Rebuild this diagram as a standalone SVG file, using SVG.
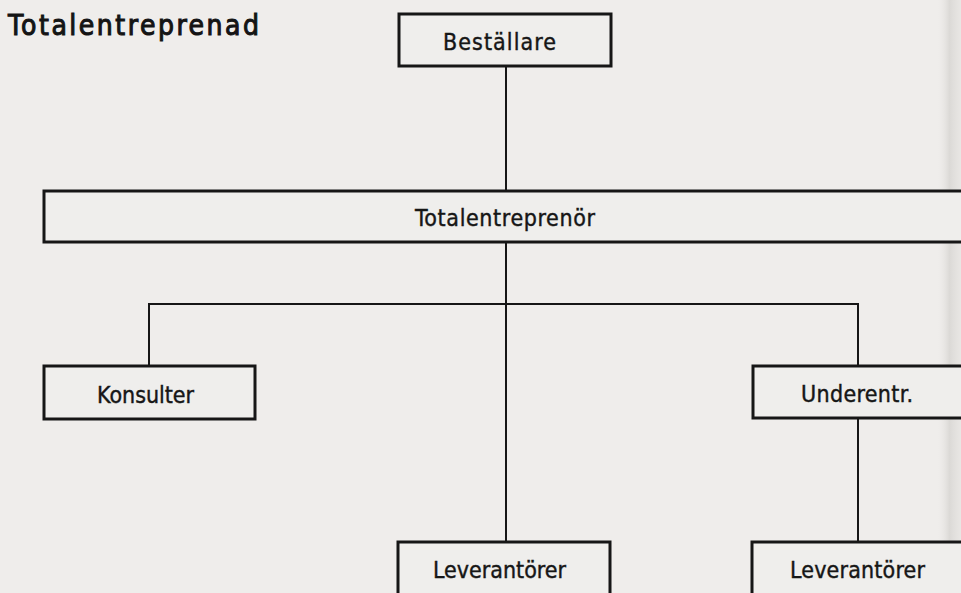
<svg xmlns="http://www.w3.org/2000/svg" width="961" height="593" viewBox="0 0 961 593">
  <defs>
    <linearGradient id="edge" x1="0" y1="0" x2="1" y2="0">
      <stop offset="0" stop-color="#e9e7e4" stop-opacity="0"/>
      <stop offset="0.5" stop-color="#d9d7d4" stop-opacity="0.9"/>
      <stop offset="1" stop-color="#e4e2df" stop-opacity="0.6"/>
    </linearGradient>
  </defs>
  <style>
    .box { fill: #efeeec; stroke: #161616; stroke-width: 3; }
    .conn { stroke: #161616; stroke-width: 2; fill: none; }
    .lbl { font-family: "DejaVu Sans Condensed", "DejaVu Sans", sans-serif; font-stretch: condensed; font-size: 23px; fill: #161616; stroke: #161616; stroke-width: 0.4; }
    .title { font-family: "DejaVu Sans Condensed", "DejaVu Sans", sans-serif; font-stretch: condensed; font-size: 28px; fill: #141414; stroke: #141414; stroke-width: 1; }
  </style>
  <rect x="0" y="0" width="961" height="593" fill="#efedeb"/>
  <rect x="938" y="0" width="23" height="593" fill="url(#edge)"/>

  <text class="title" x="8" y="35" textLength="251" lengthAdjust="spacing">Totalentreprenad</text>

  <g id="connectors">
    <line class="conn" x1="506" y1="66" x2="506" y2="191"/>
    <line class="conn" x1="506" y1="242" x2="506" y2="542"/>
    <polyline class="conn" points="149,366 149,304 858,304 858,366"/>
    <line class="conn" x1="858" y1="418" x2="858" y2="542"/>
  </g>

  <g id="bestallare">
    <rect class="box" x="399" y="14" width="212" height="52"/>
    <text class="lbl" x="443" y="50" textLength="113" lengthAdjust="spacing">Beställare</text>
  </g>

  <g id="totalentreprenor">
    <rect class="box" x="44" y="191" width="935" height="51"/>
    <text class="lbl" x="415" y="226" textLength="180" lengthAdjust="spacing">Totalentreprenör</text>
  </g>

  <g id="konsulter">
    <rect class="box" x="44" y="366" width="211" height="53"/>
    <text class="lbl" x="97" y="403" textLength="97" lengthAdjust="spacing">Konsulter</text>
  </g>

  <g id="underentr">
    <rect class="box" x="753" y="366" width="226" height="52"/>
    <text class="lbl" x="801" y="402" textLength="112" lengthAdjust="spacing">Underentr.</text>
  </g>

  <g id="leverantorer1">
    <rect class="box" x="398" y="542" width="212" height="70"/>
    <text class="lbl" x="433" y="578" textLength="133" lengthAdjust="spacing">Leverantörer</text>
  </g>

  <g id="leverantorer2">
    <rect class="box" x="752" y="542" width="227" height="70"/>
    <text class="lbl" x="790" y="578" textLength="135" lengthAdjust="spacing">Leverantörer</text>
  </g>
</svg>
